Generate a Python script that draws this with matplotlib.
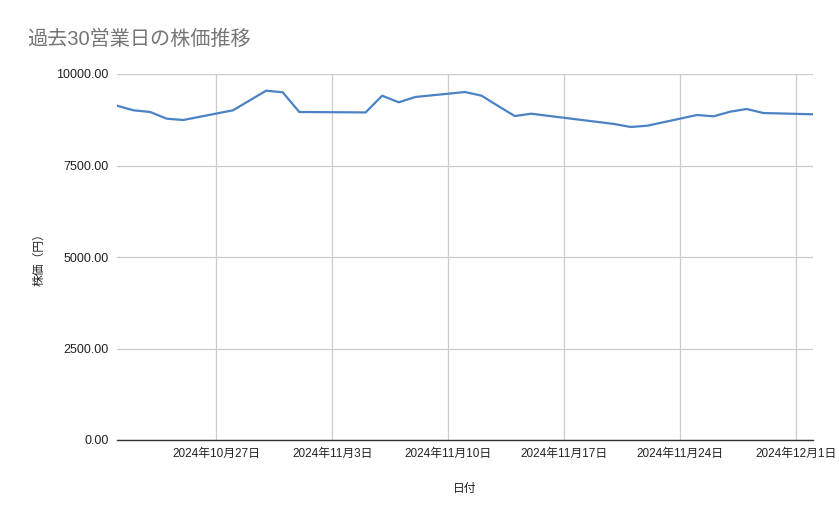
import numpy as np
import pandas as pd
import matplotlib
matplotlib.use("Agg")
import matplotlib.pyplot as plt
import matplotlib.dates as mdates

plt.rcParams['font.family'] = ['Liberation Sans', 'Noto Sans CJK JP', 'DejaVu Sans']

# 過去30営業日の株価
dates = pd.to_datetime([
    "2024-10-21", "2024-10-22", "2024-10-23", "2024-10-24", "2024-10-25",
    "2024-10-28", "2024-10-29", "2024-10-30", "2024-10-31", "2024-11-01",
    "2024-11-05", "2024-11-06", "2024-11-07", "2024-11-08",
    "2024-11-11", "2024-11-12", "2024-11-13", "2024-11-14", "2024-11-15",
    "2024-11-18", "2024-11-19", "2024-11-20", "2024-11-21", "2024-11-22",
    "2024-11-25", "2024-11-26", "2024-11-27", "2024-11-28", "2024-11-29",
    "2024-12-02",
])
prices = [
    9134, 9008, 8962, 8779, 8743,
    9008, 9276, 9544, 9500, 8962,
    8950, 9407, 9227, 9372,
    9508, 9407, 9126, 8852, 8915,
    8746, 8691, 8634, 8552, 8587,
    8880, 8844, 8970, 9044, 8934,
    8899,
]
tick_dates = pd.to_datetime(["2024-10-27", "2024-11-03", "2024-11-10",
                             "2024-11-17", "2024-11-24", "2024-12-01"])
tick_labels = ["2024年10月27日", "2024年11月3日", "2024年11月10日",
               "2024年11月17日", "2024年11月24日", "2024年12月1日"]
y_ticks = [0, 2500, 5000, 7500, 10000]

fig = plt.figure(figsize=(8.39, 5.19), dpi=100)
ax = fig.add_axes([117 / 839, 1 - 440 / 519, (813 - 117) / 839, (440 - 74) / 519])

ax.plot(dates, prices, color="#4a82c4", linewidth=1.6, zorder=3)

ax.set_xlim(pd.Timestamp("2024-10-21"), pd.Timestamp("2024-12-02"))
ax.set_ylim(0, 10000)
ax.set_xticks(tick_dates)
ax.set_xticklabels(tick_labels, fontsize=8.5, color="#222222")
ax.set_yticks(y_ticks)
ax.set_yticklabels([f"{v:.2f}" for v in y_ticks], fontsize=9, color="#222222")
ax.tick_params(length=0, pad=6)
ax.tick_params(axis="y", pad=6)

ax.grid(True, color="#cccccc", linewidth=0.9)
ax.set_axisbelow(True)
for side in ["top", "right", "left"]:
    ax.spines[side].set_visible(False)
ax.spines["bottom"].set_color("#333333")
ax.spines["bottom"].set_linewidth(1.0)

ax.set_xlabel("日付", fontsize=8.5, color="#222222", labelpad=16)
ax.set_ylabel("株価（円）", fontsize=8.5, color="#222222", labelpad=8)

fig.text(27 / 839, 1 - 39 / 519, "過去30営業日の株価推移", fontsize=14.5,
         color="#757575", va="center", ha="left")

fig.savefig("out.png", dpi=100)
